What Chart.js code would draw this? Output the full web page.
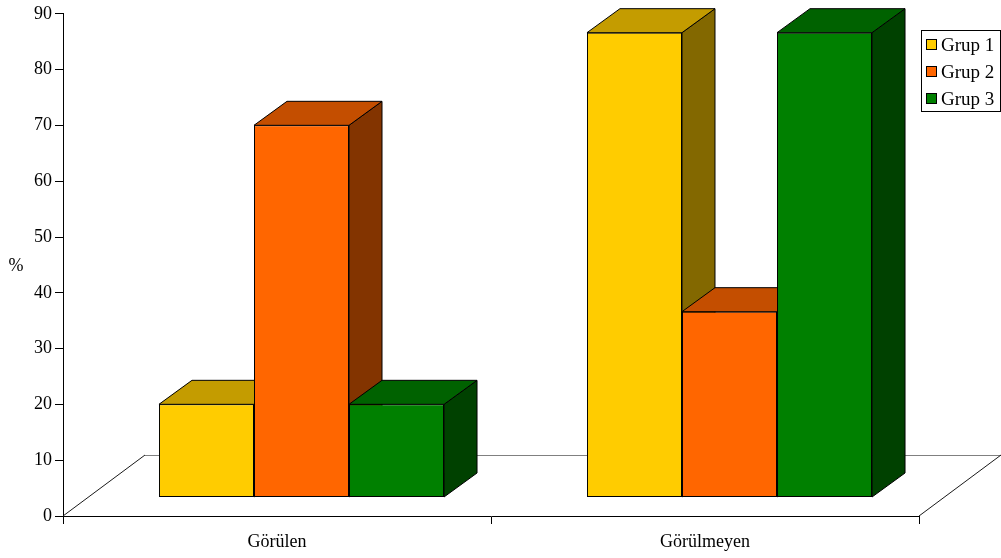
<!DOCTYPE html>
<html>
<head>
<meta charset="utf-8">
<script src="https://cdn.jsdelivr.net/npm/chart.js@4.4.1/dist/chart.umd.min.js"></script>
<style>
  html, body { margin: 0; padding: 0; background: #ffffff; }
  #wrap { width: 1001px; height: 558px; }
</style>
</head>
<body>
<div id="wrap"><canvas id="c" width="1001" height="558"></canvas></div>
<script>
// Chart data
const categories = ['Görülen', 'Görülmeyen'];
const seriesNames = ['Grup 1', 'Grup 2', 'Grup 3'];
const grup1 = [16.7, 83.3];
const grup2 = [66.7, 33.3];
const grup3 = [16.7, 83.3];
const axisMin = 0;
const axisMax = 90;
const axisStep = 10;
const axisTitle = '%';

// Face colours: front, top, side
const palette = [
  { front: '#FFCC00', top: '#C49C00', side: '#836800' },
  { front: '#FF6600', top: '#C44E00', side: '#833400' },
  { front: '#008000', top: '#006200', side: '#004100' }
];

const FONT = "'Liberation Serif', 'Times New Roman', serif";

// 3D geometry: floor depth and bar depth (in pixels)
const FLOOR_DX = 82, FLOOR_DY = 61;
const BAR_DX = 33, BAR_DY = 24;
const BAR_SHIFT_X = (FLOOR_DX - BAR_DX) / 2;
const BAR_SHIFT_Y = (FLOOR_DY - BAR_DY) / 2;

function poly(ctx, pts, fill) {
  ctx.beginPath();
  ctx.moveTo(pts[0][0], pts[0][1]);
  for (let i = 1; i < pts.length; i++) ctx.lineTo(pts[i][0], pts[i][1]);
  ctx.closePath();
  ctx.fillStyle = fill;
  ctx.fill();
  ctx.stroke();
}

const depthPlugin = {
  id: 'depth3d',
  beforeDatasetsDraw(chart) {
    const ctx = chart.ctx;
    const a = chart.chartArea;
    // floor outline
    ctx.save();
    ctx.lineWidth = 1;
    ctx.strokeStyle = '#808080';
    ctx.beginPath();
    ctx.moveTo(a.left + FLOOR_DX, a.bottom - FLOOR_DY + 0.5);
    ctx.lineTo(a.right + FLOOR_DX, a.bottom - FLOOR_DY + 0.5);
    ctx.stroke();
    ctx.strokeStyle = '#1a1a1a';
    ctx.beginPath();
    ctx.moveTo(a.left, a.bottom);
    ctx.lineTo(a.left + FLOOR_DX, a.bottom - FLOOR_DY);
    ctx.moveTo(a.right, a.bottom);
    ctx.lineTo(a.right + FLOOR_DX, a.bottom - FLOOR_DY);
    ctx.stroke();
    ctx.restore();

    // bars sit in the middle of the floor depth
    ctx.save();
    ctx.translate(BAR_SHIFT_X, -BAR_SHIFT_Y);
    ctx.lineWidth = 1;
    ctx.strokeStyle = '#000000';
    ctx.lineJoin = 'miter';
    const metas = chart.data.datasets.map((d, i) => chart.getDatasetMeta(i));
    for (let c = 0; c < categories.length; c++) {
      for (let d = 0; d < metas.length; d++) {
        const bar = metas[d].data[c];
        const half = bar.width / 2;
        const l = bar.x - half, r = bar.x + half;
        const t = bar.y, b = bar.base;
        poly(ctx, [[r, t], [r + BAR_DX, t - BAR_DY], [r + BAR_DX, b - BAR_DY], [r, b]], palette[d].side);
        poly(ctx, [[l, t], [l + BAR_DX, t - BAR_DY], [r + BAR_DX, t - BAR_DY], [r, t]], palette[d].top);
      }
    }
  },
  afterDatasetsDraw(chart) {
    chart.ctx.restore();
  },
  afterDraw(chart) {
    const ctx = chart.ctx;
    ctx.save();
    // axis title
    ctx.fillStyle = '#000';
    ctx.font = '18px ' + FONT;
    ctx.textAlign = 'center';
    ctx.textBaseline = 'middle';
    ctx.fillText(axisTitle, 16, chart.scales.y.getPixelForValue(45) + 1);

    // legend
    const bx = 921.5, by = 30.5, bw = 79, bh = 81;
    ctx.lineWidth = 1;
    ctx.strokeStyle = '#000';
    ctx.fillStyle = '#fff';
    ctx.fillRect(bx, by, bw, bh);
    ctx.strokeRect(bx, by, bw, bh);
    ctx.font = '19px ' + FONT;
    ctx.textAlign = 'left';
    ctx.textBaseline = 'alphabetic';
    seriesNames.forEach((name, i) => {
      const sy = 39.5 + i * 27;
      ctx.fillStyle = palette[i].front;
      ctx.fillRect(926.5, sy, 10, 10);
      ctx.strokeRect(926.5, sy, 10, 10);
      ctx.fillStyle = '#000';
      ctx.fillText(name, 941, sy + 11);
    });
    ctx.restore();
  }
};

const seriesValues = [grup1, grup2, grup3];

new Chart(document.getElementById('c'), {
  type: 'bar',
  data: {
    labels: categories,
    datasets: seriesValues.map((vals, i) => ({
      label: seriesNames[i],
      data: vals,
      backgroundColor: palette[i].front,
      borderColor: '#000000',
      borderWidth: 1,
      borderSkipped: false,
      categoryPercentage: 0.666,
      barPercentage: 1.0,
      clip: false
    }))
  },
  options: {
    responsive: false,
    animation: false,
    events: [],
    layout: { padding: { top: 12.5, right: 82, bottom: 0, left: 0 } },
    plugins: {
      legend: { display: false },
      tooltip: { enabled: false }
    },
    scales: {
      x: {
        offset: true,
        grid: {
          display: true,
          offset: true,
          drawOnChartArea: false,
          drawTicks: true,
          tickLength: 8,
          color: '#000'
        },
        border: { display: true, color: '#000', width: 1 },
        ticks: {
          color: '#000',
          font: { family: FONT, size: 18 },
          padding: 7,
          maxRotation: 0
        },
        afterFit(scale) { scale.height = 42; }
      },
      y: {
        min: axisMin,
        max: axisMax,
        grid: {
          display: true,
          drawOnChartArea: false,
          drawTicks: true,
          tickLength: 8,
          color: '#000'
        },
        border: { display: true, color: '#000', width: 1 },
        ticks: {
          stepSize: axisStep,
          color: '#000',
          font: { family: FONT, size: 18 },
          padding: 3
        },
        afterFit(scale) { scale.width = 63; }
      }
    }
  },
  plugins: [depthPlugin]
});
</script>
</body>
</html>
